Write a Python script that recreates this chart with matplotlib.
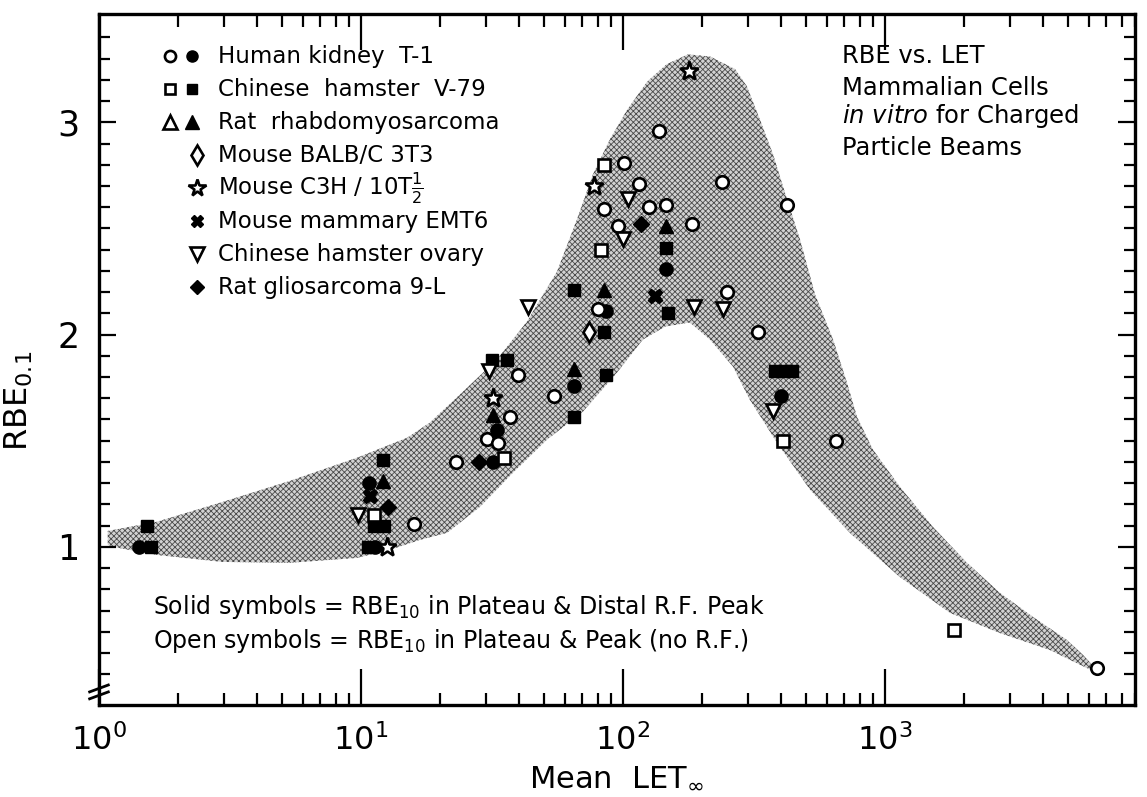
import matplotlib.pyplot as plt
from matplotlib.ticker import LogLocator, FixedLocator, LogFormatterMathtext, NullFormatter

plt.rcParams['font.family'] = 'DejaVu Sans'
plt.rcParams['mathtext.fontset'] = 'dejavusans'
plt.rcParams['hatch.linewidth'] = 0.6

# shaded envelope: outer (upper) edge and inner (lower) edge, LET vs RBE
up_let = [1.08, 1.66, 2.97, 5.36, 9.66, 15.0, 18.3, 24.5, 33.0, 43.0, 56.0, 66.7, 76.8,
          89.2, 104, 124, 147, 177, 215, 268, 297, 333, 374, 423, 474, 541, 634, 716,
          782, 900, 1140, 1524, 2056, 2748, 3673, 4955, 5700, 6340]
up_rbe = [1.075, 1.118, 1.212, 1.311, 1.420, 1.514, 1.585, 1.731, 1.882, 2.061, 2.297,
          2.542, 2.755, 2.920, 3.061, 3.193, 3.274, 3.320, 3.310, 3.250, 3.170, 3.014,
          2.849, 2.637, 2.448, 2.189, 1.976, 1.774, 1.613, 1.458, 1.283, 1.094, 0.925,
          0.783, 0.670, 0.561, 0.491, 0.429]
low_let = [1.08, 1.13, 1.66, 2.97, 5.36, 9.66, 12.9, 16.8, 21.3, 28.5, 38.0, 51.3, 70.3,
           94.9, 119, 145, 180, 215, 263, 305, 387, 518, 735, 1140, 1771, 2748, 4265, 6340]
low_rbe = [1.01, 1.0, 0.962, 0.929, 0.925, 0.948, 0.986, 1.033, 1.066, 1.189, 1.349,
           1.505, 1.637, 1.821, 1.976, 2.038, 2.057, 1.976, 1.849, 1.693, 1.491, 1.269,
           1.066, 0.858, 0.689, 0.594, 0.514, 0.410]

# Human kidney T-1
hk_open_x = [15.9, 23.0, 30.3, 33.3, 37.0, 39.7, 54.5, 80.5, 84.6, 95.7, 101, 115, 126,
             137, 146, 183, 239, 250, 328, 424, 653, 6440]
hk_open_y = [1.11, 1.40, 1.51, 1.49, 1.61, 1.81, 1.71, 2.12, 2.59, 2.51, 2.81, 2.71, 2.60,
             2.96, 2.61, 2.52, 2.72, 2.20, 2.01, 2.61, 1.50, 0.43]
hk_fill_x = [1.42, 10.7, 11.3, 31.9, 33.0, 65.0, 86.0, 146, 402]
hk_fill_y = [1.00, 1.30, 1.00, 1.40, 1.55, 1.76, 2.11, 2.31, 1.71]

# Chinese hamster V-79
v79_open_x = [11.2, 35.0, 82.4, 84.6, 409, 1828]
v79_open_y = [1.15, 1.42, 2.40, 2.80, 1.50, 0.61]
v79_fill_x = [1.52, 1.58, 10.6, 11.2, 12.2, 12.1, 31.5, 36.0, 65.0, 65.0, 86.0, 84.6,
              148.6, 146, 380, 410, 440]
v79_fill_y = [1.10, 1.00, 1.00, 1.10, 1.10, 1.41, 1.88, 1.88, 2.21, 1.61, 1.81, 2.01,
              2.10, 2.41, 1.83, 1.83, 1.83]

# Rat rhabdomyosarcoma
rr_fill_x = [12.1, 32.0, 65.0, 84.6, 146]
rr_fill_y = [1.31, 1.62, 1.84, 2.21, 2.51]

# Mouse BALB/C 3T3
balb_x = [74.0]
balb_y = [2.01]

# Mouse C3H/10T1/2
c3h_x = [12.6, 32.0, 77.5, 179]
c3h_y = [1.00, 1.70, 2.70, 3.24]

# Mouse mammary EMT6
emt6_x = [10.8, 133]
emt6_y = [1.24, 2.18]

# Chinese hamster ovary
cho_x = [9.7, 30.7, 43.3, 100, 104.5, 187, 241, 375]
cho_y = [1.15, 1.83, 2.13, 2.45, 2.64, 2.13, 2.12, 1.64]

# Rat gliosarcoma 9-L
gl_x = [12.7, 28.1, 117]
gl_y = [1.19, 1.40, 2.52]

legend_rows = [
    ('Human kidney  T-1', ['o', 'o']),
    ('Chinese  hamster  V-79', ['s', 's']),
    ('Rat  rhabdomyosarcoma', ['^', '^']),
    ('Mouse BALB/C 3T3', ['d']),
    ('Mouse C3H / 10T$\\frac{1}{2}$', ['*']),
    ('Mouse mammary EMT6', ['X']),
    ('Chinese hamster ovary', ['v']),
    ('Rat gliosarcoma 9-L', ['D']),
]
title_lines = ['RBE vs. LET', 'Mammalian Cells', '$\\it{in\\ vitro}$ for Charged',
               'Particle Beams']

fig = plt.figure(figsize=(11.47, 7.97), dpi=100)
ax = fig.add_axes([0.0863, 0.1154, 0.9032, 0.8670])
ax.set_xscale('log')
ax.set_xlim(1, 9000)
ax.set_ylim(0.255, 3.51)

# halftone envelope
ax.fill(up_let + low_let[::-1], up_rbe + low_rbe[::-1], facecolor='#d2d2d2',
        edgecolor='#4a4a4a', hatch='xxxxxx', linewidth=0, zorder=1)

op = dict(linestyle='none', mfc='white', mec='black', mew=1.9, zorder=3)
fp = dict(linestyle='none', mfc='black', mec='black', mew=1.0, zorder=3)

ax.plot(hk_fill_x, hk_fill_y, 'o', ms=9.5, **fp)
ax.plot(v79_fill_x, v79_fill_y, 's', ms=9, **fp)
ax.plot(rr_fill_x, rr_fill_y, '^', ms=10.5, **fp)
ax.plot(emt6_x, emt6_y, 'X', ms=10.5, **fp)
ax.plot(gl_x, gl_y, 'D', ms=8.5, **fp)
ax.plot(hk_open_x, hk_open_y, 'o', ms=9, **op)
ax.plot(v79_open_x, v79_open_y, 's', ms=8.5, **op)
ax.plot(balb_x, balb_y, 'd', ms=10.5, **op)
ax.plot(c3h_x, c3h_y, '*', ms=14, **op)
ax.plot(cho_x, cho_y, 'v', ms=10.5, **op)

# axes styling
for s in ax.spines.values():
    s.set_linewidth(2.4)
ax.xaxis.set_major_locator(LogLocator(base=10, numticks=10))
ax.xaxis.set_minor_locator(LogLocator(base=10, subs=range(2, 10), numticks=20))
ax.xaxis.set_major_formatter(LogFormatterMathtext())
ax.xaxis.set_minor_formatter(NullFormatter())
ax.yaxis.set_major_locator(FixedLocator([1, 2, 3]))
ax.yaxis.set_minor_locator(FixedLocator([v / 10 for v in range(4, 35) if v % 10]))
ax.set_yticklabels(['1', '2', '3'])
ax.tick_params(which='both', direction='in', top=True, right=True, width=1.6, colors='black')
ax.tick_params(axis='x', which='major', length=26, labelsize=23, pad=14)
ax.tick_params(axis='x', which='minor', length=9)
ax.tick_params(axis='y', which='major', length=12, labelsize=25, pad=14)
ax.tick_params(axis='y', which='minor', length=8)

ax.set_xlabel('Mean  LET$_{\\infty}$', fontsize=22, labelpad=4)
ax.set_ylabel('RBE$_{0.1}$', fontsize=23)
ax.yaxis.set_label_coords(-0.062, 0.44)

# axis break on the left spine
for dy in (-0.005, 0.005):
    ax.plot([-0.009, 0.009], [0.014 + dy, 0.024 + dy], color='black', lw=2,
            transform=ax.transAxes, clip_on=False, zorder=5)


def frac(px, py):
    return (px - 99) / 1036, (705 - py) / 691


# symbol key
for i, (name, marks) in enumerate(legend_rows):
    py = 56 + 33 * i
    if len(marks) == 2:
        for px, mk, style in ((170, marks[0], op), (192, marks[1], fp)):
            size = {'o': 8, 's': 7.5, '^': 9.5}[mk]
            ax.plot(*frac(px, py), mk, ms=size, transform=ax.transAxes, clip_on=False, **style)
    else:
        mk = marks[0]
        style = fp if mk in ('X', 'D') else op
        size = {'d': 10, '*': 13, 'X': 9, 'v': 10, 'D': 7.5}[mk]
        ax.plot(*frac(197, py), mk, ms=size, transform=ax.transAxes, clip_on=False, **style)
    ax.text(*frac(218, py), name, transform=ax.transAxes, fontsize=16.5,
            va='center', ha='left')

# title block
for py, line in zip([56, 88, 116, 148], title_lines):
    ax.text(*frac(842, py), line, transform=ax.transAxes, fontsize=17.5,
            va='center', ha='left')

ax.text(*frac(153, 607), 'Solid symbols = RBE$_{10}$ in Plateau & Distal R.F. Peak',
        transform=ax.transAxes, fontsize=17, va='center', ha='left')
ax.text(*frac(153, 641), 'Open symbols = RBE$_{10}$ in Plateau & Peak (no R.F.)',
        transform=ax.transAxes, fontsize=17, va='center', ha='left')

fig.savefig('out.png', dpi=100)
